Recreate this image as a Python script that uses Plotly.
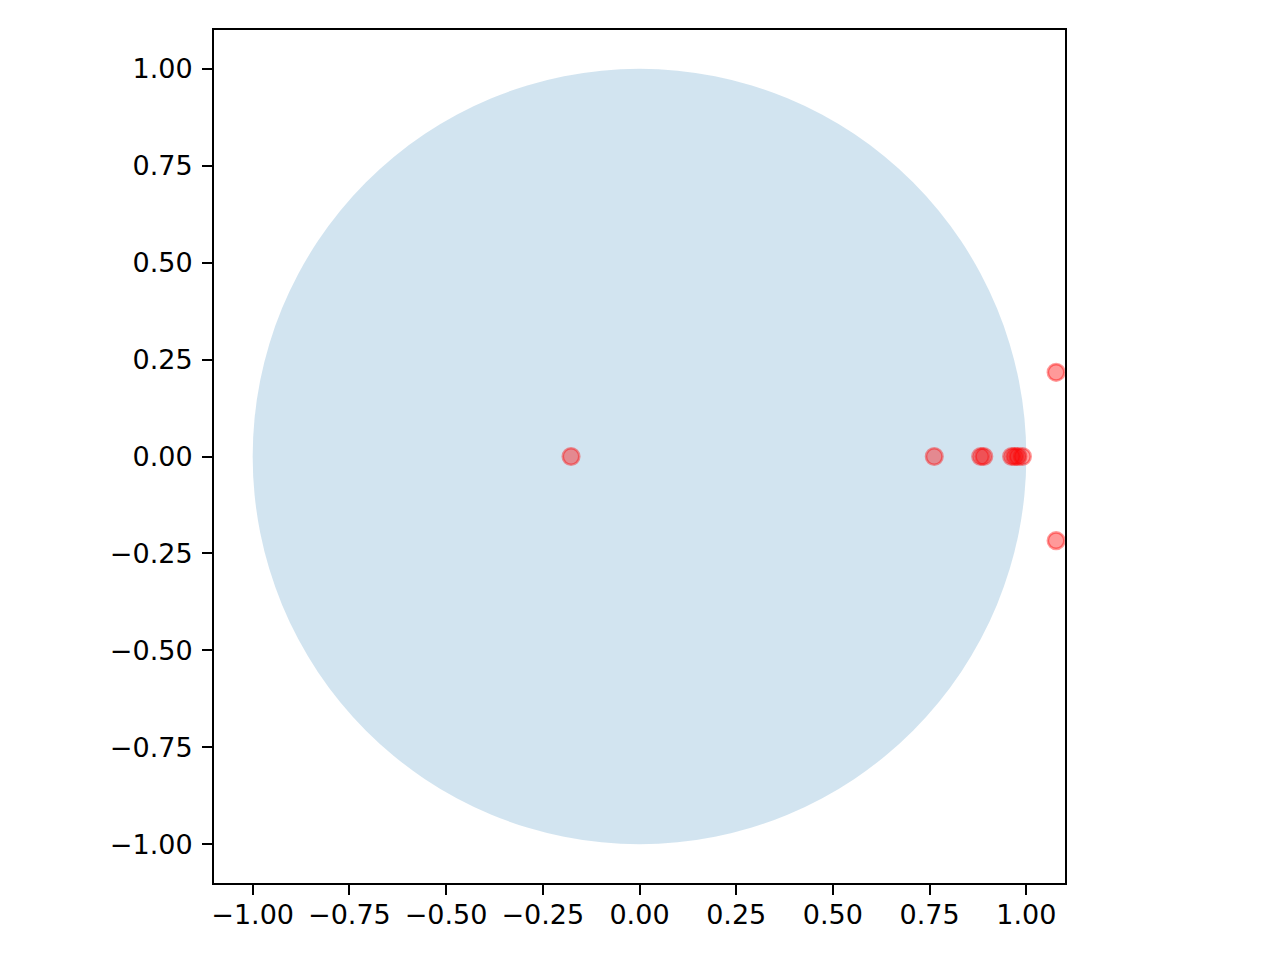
import plotly.graph_objects as go

# Data: points (e.g. eigenvalues) in the complex plane
point_re = [-0.177, 0.762, 0.882, 0.890, 0.962, 0.970, 0.978, 0.990, 1.077, 1.077]
point_im = [0.0, 0.0, 0.0, 0.0, 0.0, 0.0, 0.0, 0.0, 0.217, -0.217]

unit_radius = 1.0
axis_range = [-1.1, 1.1]
tick_vals = [-1.0, -0.75, -0.5, -0.25, 0.0, 0.25, 0.5, 0.75, 1.0]

fig = go.Figure()

fig.add_shape(
    type="circle", xref="x", yref="y",
    x0=-unit_radius, y0=-unit_radius, x1=unit_radius, y1=unit_radius,
    fillcolor="rgba(31,119,180,0.2)", line=dict(width=0), layer="below",
)

fig.add_trace(go.Scatter(
    x=point_re, y=point_im, mode="markers",
    marker=dict(size=16.5, color="rgba(255,0,0,0.4)",
                line=dict(color="rgba(255,0,0,0.4)", width=2.6)),
    showlegend=False,
))

axis_common = dict(
    range=axis_range, tickvals=tick_vals, tickformat=".2f",
    showgrid=False, zeroline=False,
    showline=True, mirror=True, linecolor="black", linewidth=2,
    ticks="outside", ticklen=10, tickwidth=2, tickcolor="black",
    tickfont=dict(family="DejaVu Sans", size=27, color="black"),
)

fig.update_xaxes(**axis_common, ticklabelstandoff=-3)
fig.update_yaxes(**axis_common, ticklabelstandoff=4)

fig.update_layout(
    width=1280, height=960, autosize=False,
    margin=dict(l=206, r=223, t=22, b=85),
    plot_bgcolor="white", paper_bgcolor="white",
)

fig.write_html("out.html")
